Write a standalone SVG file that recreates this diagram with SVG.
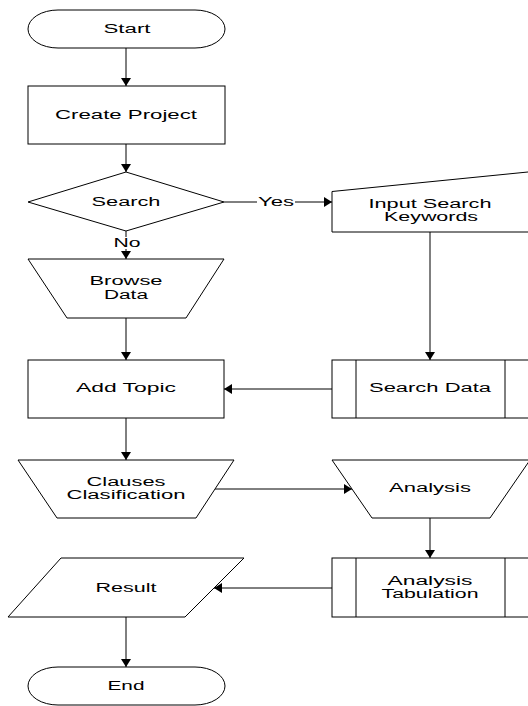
<svg xmlns="http://www.w3.org/2000/svg" width="528" height="706" viewBox="0 0 528 706">
<style>
.s{fill:#fff;stroke:#000;stroke-width:1}
.t{font-family:"Liberation Sans",Arial,sans-serif;font-size:12px;fill:#000;text-anchor:middle}
.c{fill:none;stroke:#000;stroke-width:1}
</style>
<defs>
<marker id="ah" viewBox="0 0 8 10" refX="8" refY="5" markerWidth="8" markerHeight="10" markerUnits="userSpaceOnUse" orient="auto">
<path d="M0,0 L8,5 L0,10 z" fill="#000"/>
</marker>
</defs>
<rect width="528" height="706" fill="#fff"/>
<g id="connectors">
<path class="c" d="M126,48 V86" marker-end="url(#ah)"/>
<path class="c" d="M126,144 V172" marker-end="url(#ah)"/>
<path class="c" d="M224,202 H332" marker-end="url(#ah)"/>
<path class="c" d="M126,231 V259" marker-end="url(#ah)"/>
<path class="c" d="M126,318 V360" marker-end="url(#ah)"/>
<path class="c" d="M430,232 V360" marker-end="url(#ah)"/>
<path class="c" d="M332,389 H224" marker-end="url(#ah)"/>
<path class="c" d="M126,418 V460" marker-end="url(#ah)"/>
<path class="c" d="M215,489 H352" marker-end="url(#ah)"/>
<path class="c" d="M430,518 V558" marker-end="url(#ah)"/>
<path class="c" d="M332,588 H214" marker-end="url(#ah)"/>
<path class="c" d="M126,617 V667" marker-end="url(#ah)"/>
<rect x="257" y="195" width="38" height="13" fill="#fff"/>
<text class="t" x="276" y="206" textLength="36" lengthAdjust="spacingAndGlyphs">Yes</text>
<rect x="112" y="237" width="29" height="12" fill="#fff"/>
<text class="t" x="127" y="247" textLength="27" lengthAdjust="spacingAndGlyphs">No</text>
</g>
<g id="start">
<rect class="s" x="28" y="10" width="197" height="38" rx="30" ry="19"/>
<text class="t" x="127" y="33" textLength="47" lengthAdjust="spacingAndGlyphs">Start</text>
</g>
<g id="create-project">
<rect class="s" x="28" y="86" width="197" height="58"/>
<text class="t" x="126" y="119" textLength="142" lengthAdjust="spacingAndGlyphs">Create Project</text>
</g>
<g id="search">
<path class="s" d="M126,172 L224,202 L126,231 L28,202 Z"/>
<text class="t" x="126" y="206" textLength="69" lengthAdjust="spacingAndGlyphs">Search</text>
</g>
<g id="input-search-keywords">
<path class="s" d="M332,191.5 L530,171.8 L530,232 L332,232 Z"/>
<text class="t" x="430" y="207.5" textLength="123" lengthAdjust="spacingAndGlyphs">Input Search</text>
<text class="t" x="431" y="221" textLength="94" lengthAdjust="spacingAndGlyphs">Keywords</text>
</g>
<g id="browse-data">
<path class="s" d="M28,259 L224,259 L186,318 L67,318 Z"/>
<text class="t" x="126" y="285" textLength="73" lengthAdjust="spacingAndGlyphs">Browse</text>
<text class="t" x="126" y="298.5" textLength="44" lengthAdjust="spacingAndGlyphs">Data</text>
</g>
<g id="add-topic">
<rect class="s" x="28" y="360" width="196" height="58"/>
<text class="t" x="126" y="392" textLength="100" lengthAdjust="spacingAndGlyphs">Add Topic</text>
</g>
<g id="search-data">
<rect class="s" x="332" y="360" width="198" height="58"/>
<line class="c" x1="356" y1="360" x2="356" y2="418"/>
<line class="c" x1="505" y1="360" x2="505" y2="418"/>
<text class="t" x="430" y="392" textLength="122" lengthAdjust="spacingAndGlyphs">Search Data</text>
</g>
<g id="clauses-clasification">
<path class="s" d="M18,460 L234,460 L196,518 L57,518 Z"/>
<text class="t" x="126" y="485.5" textLength="79" lengthAdjust="spacingAndGlyphs">Clauses</text>
<text class="t" x="126" y="499" textLength="119" lengthAdjust="spacingAndGlyphs">Clasification</text>
</g>
<g id="analysis">
<path class="s" d="M332,460 L530,460 L490,518 L372,518 Z"/>
<text class="t" x="430" y="492" textLength="82" lengthAdjust="spacingAndGlyphs">Analysis</text>
</g>
<g id="analysis-tabulation">
<rect class="s" x="332" y="558" width="198" height="59"/>
<line class="c" x1="356" y1="558" x2="356" y2="617"/>
<line class="c" x1="505" y1="558" x2="505" y2="617"/>
<text class="t" x="430" y="584.5" textLength="85" lengthAdjust="spacingAndGlyphs">Analysis</text>
<text class="t" x="430" y="598" textLength="97" lengthAdjust="spacingAndGlyphs">Tabulation</text>
</g>
<g id="result">
<path class="s" d="M61,558 L244,558 L185,617 L8,617 Z"/>
<text class="t" x="126" y="592" textLength="61" lengthAdjust="spacingAndGlyphs">Result</text>
</g>
<g id="end">
<rect class="s" x="28" y="667" width="197" height="38" rx="30" ry="19"/>
<text class="t" x="126" y="690" textLength="37" lengthAdjust="spacingAndGlyphs">End</text>
</g>
</svg>
